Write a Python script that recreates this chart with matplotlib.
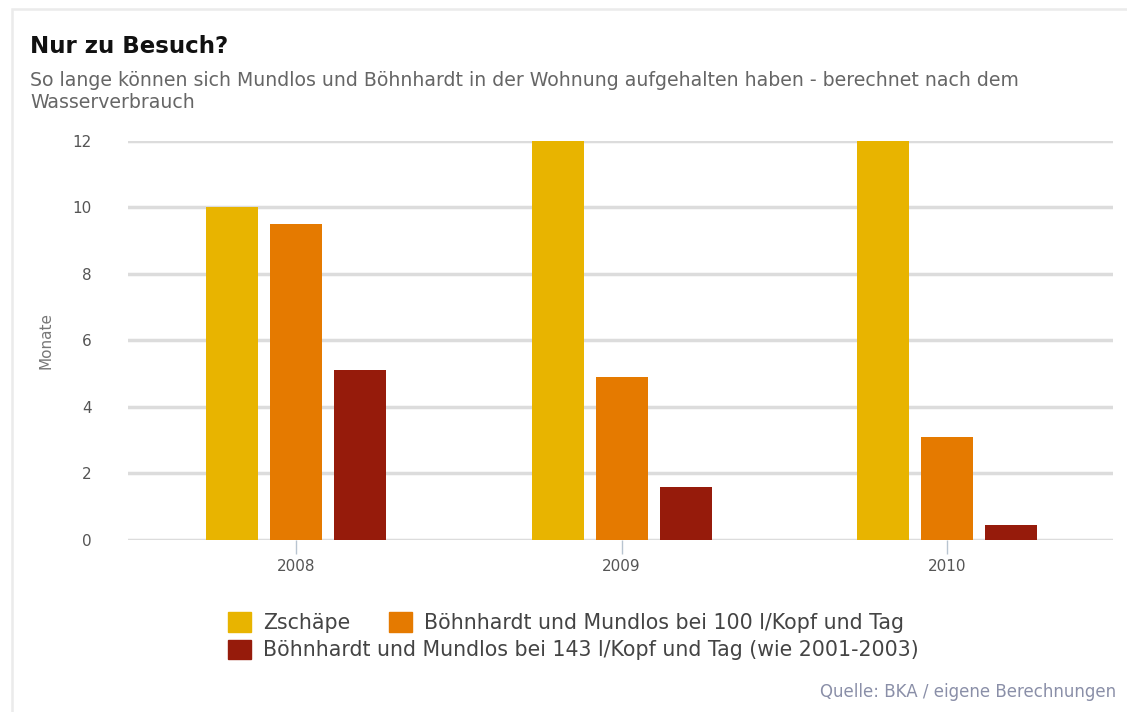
import numpy as np
import matplotlib
matplotlib.use('Agg')
import matplotlib.pyplot as plt
from matplotlib.patches import Patch, Rectangle

years = ['2008', '2009', '2010']
zschaepe = [10.0, 12.0, 12.0]
boehn_100 = [9.5, 4.9, 3.1]
boehn_143 = [5.1, 1.6, 0.45]

labels = ['Zschäpe',
          'Böhnhardt und Mundlos bei 100 l/Kopf und Tag',
          'Böhnhardt und Mundlos bei 143 l/Kopf und Tag (wie 2001-2003)']
colors = ['#E8B400', '#E57A00', '#961B0B']

plt.rcParams['font.family'] = ['DejaVu Sans']

fig = plt.figure(figsize=(11.27, 7.12), dpi=100)

# faint card outline like the screenshot
fig.patches.append(Rectangle((0.0107, -0.05), 1.1, 1.037, transform=fig.transFigure,
	fill=False, edgecolor='#ebebeb', linewidth=1.8))

ax = fig.add_axes([0.1136, 0.2416, 0.874, 0.5604])

x = np.arange(len(years))
w = 0.16
step = 0.197
for i, (vals, c) in enumerate(zip([zschaepe, boehn_100, boehn_143], colors)):
	ax.bar(x + (i - 1) * step, vals, width=w, color=c, zorder=3)

ax.set_ylim(0, 12)
ax.set_xlim(-0.517, 2.51)
ax.set_yticks(range(0, 13, 2))
ax.set_xticks(x)
ax.set_xticklabels(years)
ax.yaxis.grid(True, color='#dcdcdc', linewidth=2.5, zorder=0)
for s in ax.spines.values():
	s.set_visible(False)
ax.tick_params(axis='y', length=0, pad=26, labelsize=11, labelcolor='#555555')
ax.tick_params(axis='x', length=10, width=1, color='#b8c4d0', pad=4, labelsize=11, labelcolor='#555555')
ax.set_ylabel('Monate', fontsize=11, color='#777777', labelpad=14)

fig.text(0.027, 0.934, 'Nur zu Besuch?', fontsize=16.5, fontweight='bold', color='#111111', va='center')
fig.text(0.027, 0.9, 'So lange können sich Mundlos und Böhnhardt in der Wohnung aufgehalten haben - berechnet nach dem\nWasserverbrauch',
	fontsize=13.6, color='#666666', va='top', linespacing=1.2)

h = [Patch(color=c) for c in colors]
fig.legend(h[:2], labels[:2], loc='center left', bbox_to_anchor=(0.186, 0.126), ncol=2,
	frameon=False, fontsize=14.8, handlelength=1.1, handleheight=1.1, handletextpad=0.6,
	columnspacing=1.9, labelcolor='#444444')
fig.legend(h[2:], labels[2:], loc='center left', bbox_to_anchor=(0.186, 0.087),
	frameon=False, fontsize=14.8, handlelength=1.1, handleheight=1.1, handletextpad=0.6,
	labelcolor='#444444')

fig.text(0.99, 0.028, 'Quelle: BKA / eigene Berechnungen', fontsize=12, color='#8a8fa8', ha='right', va='center')

fig.savefig('out.png', dpi=100)
